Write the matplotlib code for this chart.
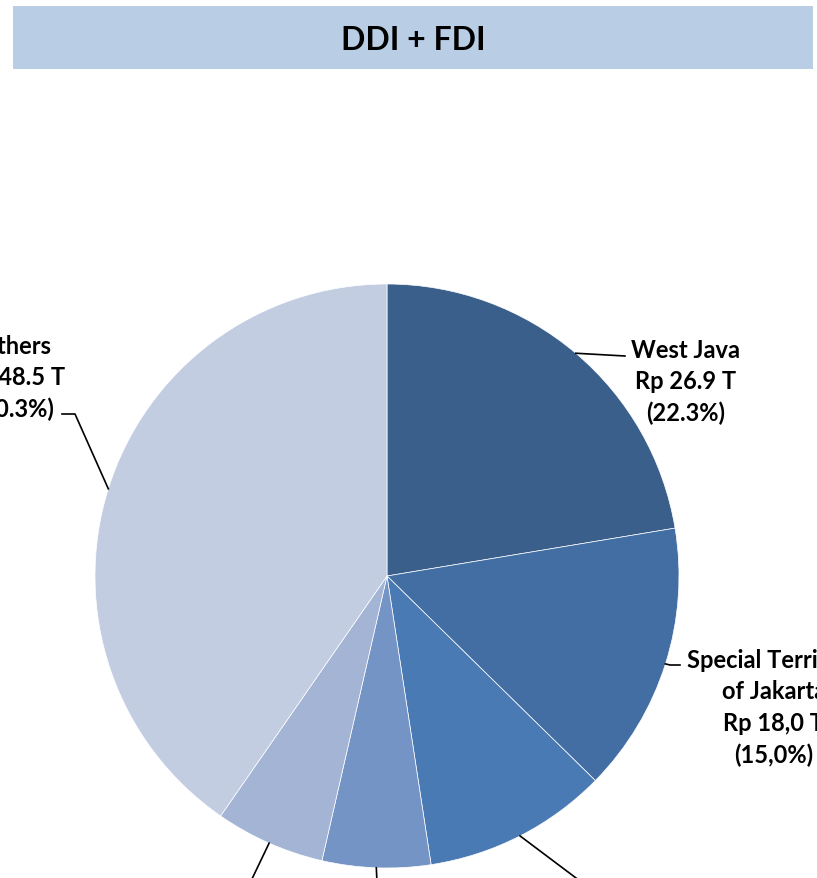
import numpy as np
import matplotlib.pyplot as plt
from matplotlib.patches import Rectangle

# Investasi DDI + FDI per provinsi (Rp triliun)
regions = ['West Java', 'Special Territory\nof Jakarta', 'Region 3', 'Region 4', 'Region 5', 'Others']
values = [26.9, 18.0, 12.3, 7.2, 7.3, 48.5]
value_text = ['Rp 26.9 T', 'Rp 18,0 T', '', '', '', 'Rp 48.5 T']
share_text = ['(22.3%)', '(15,0%)', '', '', '', '(40.3%)']
colors = ['#3A5F8B', '#426EA3', '#4A7AB4', '#7594C6', '#A3B4D5', '#C2CDE2']

W, H = 817, 879
cx, cy, r = 387, H - 577, 292

plt.rcParams['font.family'] = ['Lato', 'DejaVu Sans']
fig = plt.figure(figsize=(W / 100, H / 100), dpi=100)
ax = fig.add_axes([0, 0, 1, 1])

ax.pie(values, colors=colors, startangle=90, counterclock=False,
       center=(cx, cy), radius=r,
       wedgeprops=dict(linewidth=0.5, edgecolor='white'))
ax.set_xlim(0, W)
ax.set_ylim(0, H)
ax.set_aspect('equal')
ax.axis('off')

# bandeau du titre
ax.add_patch(Rectangle((13, H - 70), 800, 63, facecolor='#B9CDE5', edgecolor='none'))
ax.text(413, H - 40, 'DDI + FDI', ha='center', va='center', fontsize=23, fontweight='bold')

# angles milieux des parts (depuis midi, sens horaire)
cum = np.cumsum(values) / sum(values)
mid = (cum - np.array(values) / sum(values) / 2) * 2 * np.pi
edge = [(cx + r * np.sin(a), cy + r * np.cos(a)) for a in mid]

# lignes de rappel: (points après le bord), position du texte
leaders = [
    ([(625, H - 357)], (686, H - 382)),
    ([(670, H - 666), (680, H - 666)], (774, H - 708)),
    ([(600, H - 897)], None),
    ([(378, H - 905)], None),
    ([(240, H - 905)], None),
    ([(75, H - 415), (62, H - 415)], (15, H - 378)),
]

for i, (pts, txt_pos) in enumerate(leaders):
    xs = [edge[i][0]] + [p[0] for p in pts]
    ys = [edge[i][1]] + [p[1] for p in pts]
    ax.plot(xs, ys, color='black', lw=1.2, clip_on=True)
    if txt_pos is not None:
        ax.text(txt_pos[0], txt_pos[1], f'{regions[i]}\n{value_text[i]}\n{share_text[i]}',
                ha='center', va='center', fontsize=17, fontweight='bold',
                linespacing=1.45)

fig.savefig('out.png', dpi=100)
